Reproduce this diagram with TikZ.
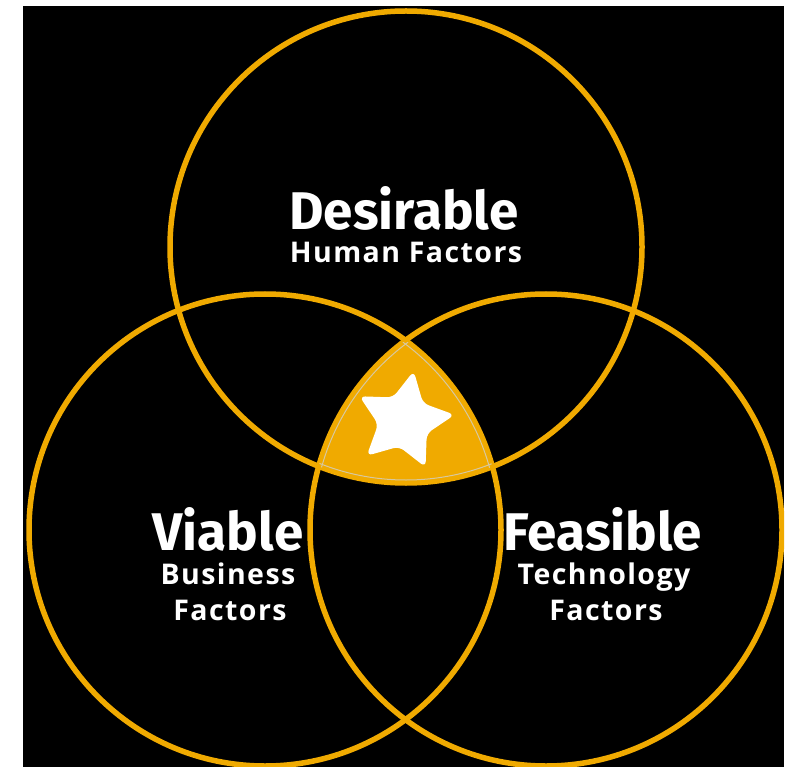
\documentclass[tikz,border=0pt]{standalone}
\usepackage{fontspec}
\setmainfont{Fira Sans}
\newfontfamily\smallfam[LetterSpace=5]{Open Sans}
\definecolor{gold}{RGB}{240,170,0}
\definecolor{edgeline}{RGB}{215,200,160}
\begin{document}
\begin{tikzpicture}[x=1pt,y=-1pt,
  ring/.style={draw=gold,line width=5.5pt},
  bigtxt/.style={text=white,anchor=base,inner sep=0pt,font=\fontsize{53}{53}\selectfont\bfseries},
  smalltxt/.style={text=white,anchor=base,inner sep=0pt,font=\smallfam\fontsize{28.5}{28.5}\selectfont\bfseries}]
\useasboundingbox (0,0) rectangle (795,767);
\fill[white] (0,0) rectangle (795,767);
\fill[black] (23,6) rectangle (784,767);
\coordinate (T) at (406,247);
\coordinate (L) at (265,530);
\coordinate (R) at (546,530);
% central region
\begin{scope}
  \clip (L) circle[radius=236pt];
  \clip (R) circle[radius=236pt];
  \fill[gold] (T) circle[radius=236pt];
\end{scope}
\begin{scope}
  \clip (23,6) rectangle (784,767);
  \draw[ring] (T) circle[radius=236pt];
  \draw[ring] (L) circle[radius=236pt];
  \draw[ring] (R) circle[radius=236pt];
\end{scope}
\begin{scope}
  \clip (L) circle[radius=236pt];
  \clip (R) circle[radius=236pt];
  \clip (T) circle[radius=236pt];
  \draw[edgeline,line width=1pt] (T) circle[radius=233pt];
  \draw[edgeline,line width=1pt] (L) circle[radius=233pt];
  \draw[edgeline,line width=1pt] (R) circle[radius=233pt];
\end{scope}
% star
\fill[white,rounded corners=6pt] ({404+51*cos(-79)},{421+51*sin(-79)})
  \foreach \k in {1,...,9} {
    -- ({404+(mod(\k,2)==0 ? 51 : 26)*cos(-79+36*\k)},{421+(mod(\k,2)==0 ? 51 : 26)*sin(-79+36*\k)})
  } -- cycle;
% texts
\node[bigtxt] (des) at (404,230) {Desirable};
\node[smalltxt] (hum) at (406,263) {Human Factors};
\node[bigtxt] (via) at (228,550) {Viable};
\node[smalltxt] (bus) at (228,584) {Business};
\node[smalltxt] (fb) at (230,620) {Factors};
\node[bigtxt] (fea) at (603,550) {Feasible};
\node[smalltxt] (tec) at (604,584) {Technology};
\node[smalltxt] (ft) at (606,620) {Factors};
\end{tikzpicture}
\end{document}
